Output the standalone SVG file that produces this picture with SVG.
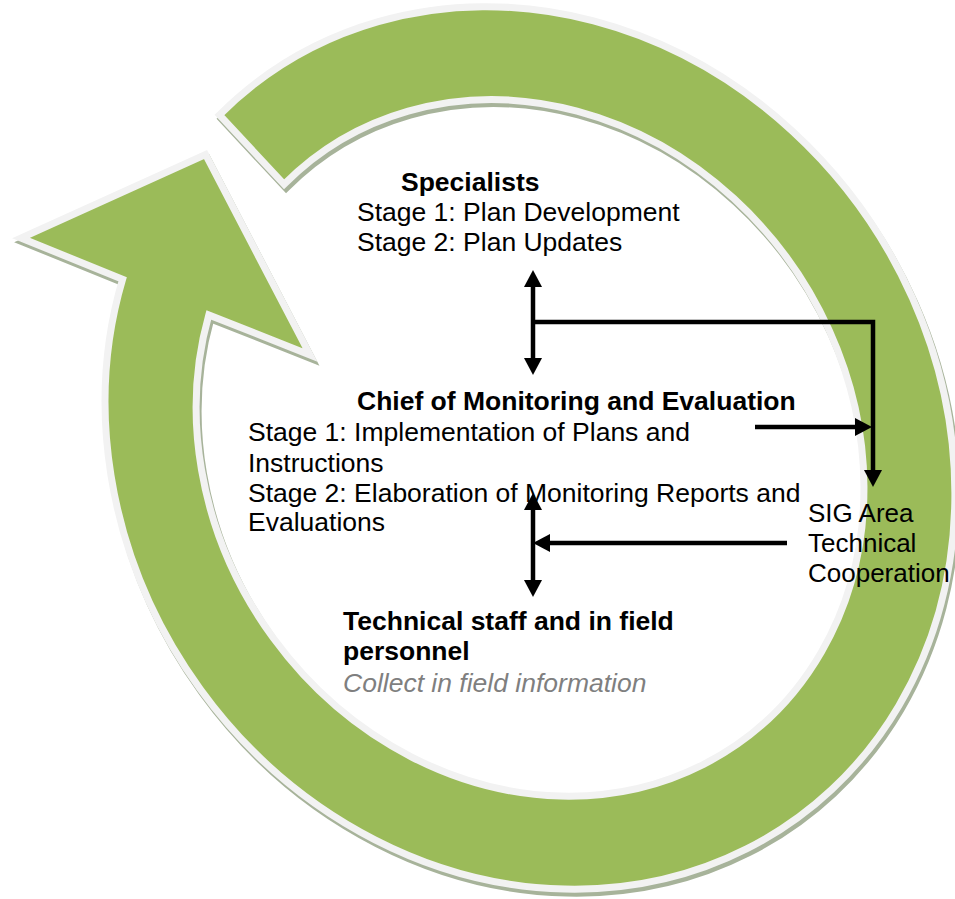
<svg xmlns="http://www.w3.org/2000/svg" xmlns:xlink="http://www.w3.org/1999/xlink" width="955" height="899" viewBox="0 0 955 899">
  <style>
    .ring { fill: #9bbb59; stroke: #f2f2f2; stroke-width: 7; stroke-linejoin: miter; stroke-miterlimit: 10; }
    .shadow { fill: #a7b39a; stroke: #a7b39a; stroke-width: 7; stroke-linejoin: miter; stroke-miterlimit: 10; }
    text { font-family: "Liberation Sans", Arial, sans-serif; font-size: 26.5px; fill: #000; }
    .b { font-weight: bold; }
    .note { font-style: italic; fill: #7f7f7f; }
    .sig { font-size: 26px; }
    .conn { fill: none; stroke: #000; stroke-width: 4.5; stroke-linejoin: miter; }
  </style>
  <defs>
    <path id="ringPath" d="M219.4,114.9 A456.5,408.5 55 1 1 122.6,279.3 L21,238 L205.5,154.5 L310,355 L208.8,314.9 A361.5,319.5 55 1 0 284.1,184.3 Z"/>
    <marker id="ah" viewBox="0 0 17 18" markerUnits="userSpaceOnUse" markerWidth="17" markerHeight="18" refX="0" refY="9" orient="auto-start-reverse">
      <path d="M0,0 L17,9 L0,18 Z" fill="#000"/>
    </marker>
  </defs>

  <g id="cycle-arrow">
    <use xlink:href="#ringPath" class="shadow" transform="translate(2,4)"/>
    <use xlink:href="#ringPath" class="ring"/>
  </g>

  <g id="specialists">
    <text class="b" x="401" y="191">Specialists</text>
    <text x="357" y="221">Stage 1: Plan Development</text>
    <text x="357" y="251">Stage 2: Plan Updates</text>
  </g>

  <g id="chief">
    <text class="b" x="357" y="410">Chief of Monitoring and Evaluation</text>
    <text x="248" y="441">Stage 1: Implementation of Plans and</text>
    <text x="248" y="472">Instructions</text>
    <text x="248" y="502">Stage 2: Elaboration of Monitoring Reports and</text>
    <text x="248" y="531">Evaluations</text>
  </g>

  <g id="technical">
    <text class="b" x="343" y="630">Technical staff and in field</text>
    <text class="b" x="343" y="660">personnel</text>
    <text class="note" x="343" y="692">Collect in field information</text>
  </g>

  <g id="sig">
    <text class="sig" x="808" y="522">SIG Area</text>
    <text class="sig" x="808" y="552">Technical</text>
    <text class="sig" x="808" y="582">Cooperation</text>
  </g>

  <g id="connectors">
    <path class="conn" d="M533,287 V358" marker-start="url(#ah)" marker-end="url(#ah)"/>
    <path class="conn" d="M533,322 H873 V470" marker-end="url(#ah)"/>
    <path class="conn" d="M755,427 H855" marker-end="url(#ah)"/>
    <path class="conn" d="M533,510 V580" marker-start="url(#ah)" marker-end="url(#ah)"/>
    <path class="conn" d="M787,543 H550" marker-end="url(#ah)"/>
  </g>
</svg>
